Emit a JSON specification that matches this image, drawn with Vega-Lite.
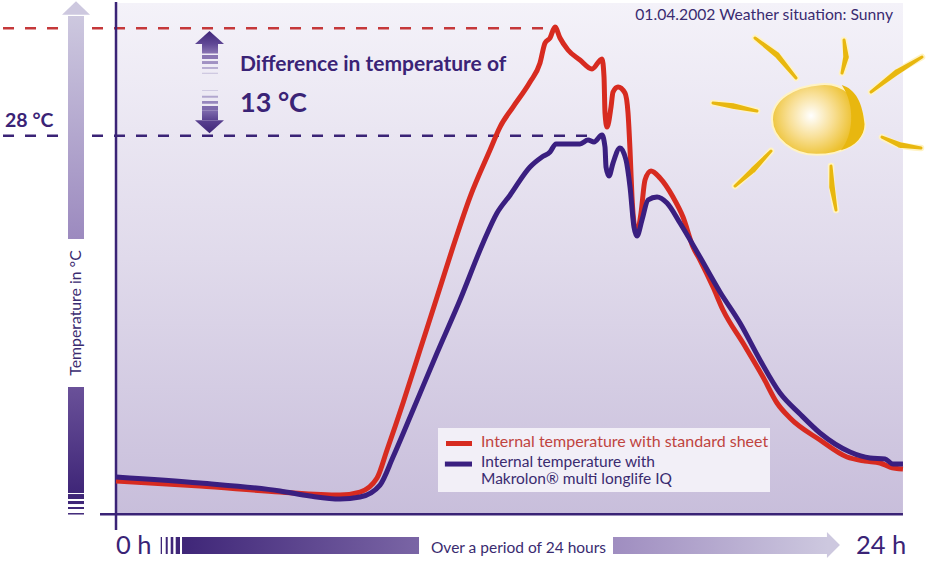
{
"$schema":"https://vega.github.io/schema/vega-lite/v6.json",
"width":947,"height":564,"padding":0,
"autosize":{"type":"fit","contains":"padding"},
"background":"white",
"config":{"view":{"stroke":null},"font":"Lato"},
"datasets":{
"standard":[{"h":0,"t":-13.8},{"h":2.562,"t":-14.41},{"h":5.002,"t":-15.14},{"h":6.831,"t":-15.5},{"h":7.441,"t":-15.14},{"h":7.96,"t":-13.44},{"h":8.265,"t":-10.05},{"h":8.753,"t":-4.36},{"h":9.271,"t":2.06},{"h":9.79,"t":8.47},{"h":10.277,"t":14.53},{"h":10.796,"t":20.58},{"h":11.406,"t":26.27},{"h":11.71,"t":29.05},{"h":12.107,"t":31.47},{"h":12.626,"t":34.5},{"h":12.931,"t":36.8},{"h":13.083,"t":39.22},{"h":13.236,"t":39.83},{"h":13.388,"t":41.16},{"h":13.541,"t":39.83},{"h":13.785,"t":38.38},{"h":14.151,"t":37.16},{"h":14.517,"t":36.08},{"h":14.822,"t":37.29},{"h":14.883,"t":35.11},{"h":14.913,"t":30.75},{"h":14.974,"t":29.05},{"h":15.096,"t":31.47},{"h":15.157,"t":33.29},{"h":15.31,"t":33.9},{"h":15.523,"t":33.17},{"h":15.615,"t":30.75},{"h":15.676,"t":26.27},{"h":15.736,"t":20.58},{"h":15.797,"t":17.43},{"h":15.889,"t":16.22},{"h":16.011,"t":18.64},{"h":16.133,"t":22.64},{"h":16.316,"t":23.73},{"h":16.59,"t":22.88},{"h":16.987,"t":20.58},{"h":17.292,"t":18.16},{"h":17.597,"t":14.53},{"h":17.81,"t":12.95},{"h":18.207,"t":9.68},{"h":18.512,"t":6.9},{"h":19.122,"t":2.9},{"h":19.732,"t":-1.21},{"h":20.159,"t":-4.36},{"h":20.555,"t":-6.18},{"h":21.47,"t":-8.84},{"h":22.294,"t":-10.9},{"h":22.84,"t":-11.38},{"h":23.3,"t":-11.62},{"h":23.6,"t":-12.11},{"h":24,"t":-12.35}],
"makrolon":[{"h":0,"t":-13.32},{"h":2.562,"t":-14.05},{"h":5.002,"t":-15.01},{"h":5.916,"t":-15.62},{"h":6.831,"t":-15.98},{"h":7.441,"t":-15.74},{"h":8.051,"t":-14.29},{"h":8.448,"t":-10.9},{"h":9.058,"t":-5.21},{"h":9.79,"t":1.69},{"h":10.491,"t":8.11},{"h":11.193,"t":15.01},{"h":11.619,"t":18.64},{"h":12.016,"t":20.8},{"h":12.626,"t":24.21},{"h":12.992,"t":25.42},{"h":13.236,"t":26.03},{"h":13.419,"t":27},{"h":13.754,"t":27},{"h":14.151,"t":27},{"h":14.395,"t":27.48},{"h":14.578,"t":27.24},{"h":14.822,"t":28.08},{"h":14.913,"t":26.63},{"h":14.944,"t":24.21},{"h":15.035,"t":23.12},{"h":15.157,"t":24.69},{"h":15.371,"t":26.51},{"h":15.554,"t":25.06},{"h":15.676,"t":21.79},{"h":15.797,"t":16.95},{"h":15.889,"t":15.86},{"h":16.041,"t":17.79},{"h":16.225,"t":20.22},{"h":16.499,"t":20.58},{"h":16.804,"t":19.85},{"h":17.2,"t":17.43},{"h":17.81,"t":13.31},{"h":18.42,"t":9.08},{"h":19.03,"t":5.32},{"h":19.64,"t":0.85},{"h":20.25,"t":-3.15},{"h":20.86,"t":-5.69},{"h":21.47,"t":-7.99},{"h":22.385,"t":-10.29},{"h":22.995,"t":-11.02},{"h":23.452,"t":-11.14},{"h":23.696,"t":-11.75},{"h":24,"t":-11.75}],
"rays":[{"ray":1,"n":1,"h":19.488,"t":39.83},{"ray":1,"n":2,"h":20.159,"t":37.77},{"ray":1,"n":3,"h":20.738,"t":34.99},{"ray":2,"n":1,"h":22.202,"t":39.59},{"ray":2,"n":2,"h":22.263,"t":37.53},{"ray":2,"n":3,"h":22.141,"t":35.59},{"ray":3,"n":1,"h":24.581,"t":37.53},{"ray":3,"n":2,"h":23.818,"t":35.71},{"ray":3,"n":3,"h":23.025,"t":33.29},{"ray":4,"n":1,"h":18.207,"t":31.96},{"ray":4,"n":2,"h":18.816,"t":31.6},{"ray":4,"n":3,"h":19.549,"t":30.99},{"ray":5,"n":1,"h":23.361,"t":27.84},{"ray":5,"n":2,"h":23.91,"t":26.87},{"ray":5,"n":3,"h":24.55,"t":26.51},{"ray":6,"n":1,"h":19.976,"t":26.15},{"ray":6,"n":2,"h":19.427,"t":23.85},{"ray":6,"n":3,"h":18.878,"t":21.91},{"ray":7,"n":1,"h":21.805,"t":24.33},{"ray":7,"n":2,"h":21.836,"t":21.79},{"ray":7,"n":3,"h":21.958,"t":19}]
},
"encoding":{
"x":{"field":"h","type":"quantitative","axis":null,"scale":{"domain":[-3.538,25.343],"nice":false,"zero":false}},
"y":{"field":"t","type":"quantitative","axis":null,"scale":{"domain":[-23.85,44.43],"nice":false,"zero":false}}
},
"resolve":{"scale":{"color":"independent","size":"independent"}},
"layer":[
{"data":{"values":[{"h":0,"h2":24,"t":44.07,"t2":-17.84}]},"mark":{"type":"rect","fill":{"gradient":"linear","x1":0,"y1":0,"x2":0,"y2":1,"stops":[{"offset":0,"color":"#F4F2F9"},{"offset":0.5,"color":"#E0DAEB"},{"offset":1,"color":"#C8BEDB"}]}},"encoding":{"x2":{"field":"h2"},"y2":{"field":"t2"}}},
{"data":{"values":[{"h":-1.464,"h2":-0.976,"t":42.49,"t2":15.49}]},"mark":{"type":"rect","fill":{"gradient":"linear","x1":0,"y1":0,"x2":0,"y2":1,"stops":[{"offset":0,"color":"#CDC8DF"},{"offset":1,"color":"#9C8ABF"}]}},"encoding":{"x2":{"field":"h2"},"y2":{"field":"t2"}}},
{"data":{"values":[{"h":-1.22,"t":43.47}]},"mark":{"type":"point","filled":true,"opacity":1,"size":784,"fill":"#CDC8DF","stroke":null,"shape":"M0,-0.48 L1,0.48 L-1,0.48Z"}},
{"data":{"values":[{"h":-1.464,"h2":-0.976,"t":-2.42,"t2":-15.26}]},"mark":{"type":"rect","fill":{"gradient":"linear","x1":0,"y1":0,"x2":0,"y2":1,"stops":[{"offset":0,"color":"#6A5199"},{"offset":1,"color":"#3F2678"}]}},"encoding":{"x2":{"field":"h2"},"y2":{"field":"t2"}}},
{"data":{"values":[{"h":-1.464,"h2":-0.976,"t":-15.38,"t2":-15.98},{"h":-1.464,"h2":-0.976,"t":-16.22,"t2":-16.59},{"h":-1.464,"h2":-0.976,"t":-16.95,"t2":-17.19},{"h":-1.464,"h2":-0.976,"t":-17.68,"t2":-17.86}]},"mark":{"type":"rect","fill":"#3F2678"},"encoding":{"x2":{"field":"h2"},"y2":{"field":"t2"}}},
{"data":{"values":[{"h":2.013,"h2":9.241,"t":-20.58,"t2":-22.64}]},"mark":{"type":"rect","fill":{"gradient":"linear","x1":0,"y1":0,"x2":1,"y2":0,"stops":[{"offset":0,"color":"#3F2678"},{"offset":1,"color":"#7A65A5"}]}},"encoding":{"x2":{"field":"h2"},"y2":{"field":"t2"}}},
{"data":{"values":[{"h":1.363,"h2":1.403,"t":-20.58,"t2":-22.64},{"h":1.516,"h2":1.577,"t":-20.58,"t2":-22.64},{"h":1.668,"h2":1.747,"t":-20.58,"t2":-22.64},{"h":1.821,"h2":1.952,"t":-20.58,"t2":-22.64}]},"mark":{"type":"rect","fill":"#3F2678"},"encoding":{"x2":{"field":"h2"},"y2":{"field":"t2"}}},
{"data":{"values":[{"h":15.157,"h2":21.714,"t":-20.58,"t2":-22.64}]},"mark":{"type":"rect","fill":{"gradient":"linear","x1":0,"y1":0,"x2":1,"y2":0,"stops":[{"offset":0,"color":"#9F8DC0"},{"offset":1,"color":"#CDC8DF"}]}},"encoding":{"x2":{"field":"h2"},"y2":{"field":"t2"}}},
{"data":{"values":[{"h":21.88,"t":-21.55}]},"mark":{"type":"point","filled":true,"opacity":1,"size":676,"fill":"#CDC8DF","stroke":null,"shape":"M-0.5,-1 L0.5,0 L-0.5,1Z"}},
{"data":{"values":[{"h":-3.446,"h2":-1.647,"t":41},{"h":-0.732,"h2":13.388,"t":41}]},"mark":{"type":"rule","stroke":"#C5383A","strokeWidth":2.5,"strokeDash":[11,11]},"encoding":{"x2":{"field":"h2"}}},
{"data":{"values":[{"h":-3.446,"h2":-1.647,"t":28},{"h":-0.732,"h2":14.517,"t":28}]},"mark":{"type":"rule","stroke":"#3A2376","strokeWidth":2.5,"strokeDash":[11,11]},"encoding":{"x2":{"field":"h2"}}},
{"data":{"values":[{"h":0,"t":44.19,"t2":-19.74}]},"mark":{"type":"rule","stroke":"#3A2376","strokeWidth":2.5},"encoding":{"y2":{"field":"t2"}}},
{"data":{"values":[{"h":-0.488,"h2":24,"t":-17.84}]},"mark":{"type":"rule","stroke":"#3A2376","strokeWidth":2.5},"encoding":{"x2":{"field":"h2"}}},
{"data":{"values":[{"h":2.623,"h2":3.111,"t":39.1,"t2":37.95}]},"mark":{"type":"rect","fill":{"gradient":"linear","x1":0,"y1":0,"x2":0,"y2":1,"stops":[{"offset":0,"color":"#5F4795"},{"offset":1,"color":"#8A76B3"}]}},"encoding":{"x2":{"field":"h2"},"y2":{"field":"t2"}}},
{"data":{"values":[{"h":2.623,"h2":3.111,"t":31.03,"t2":29.9}]},"mark":{"type":"rect","fill":{"gradient":"linear","x1":0,"y1":0,"x2":0,"y2":1,"stops":[{"offset":0,"color":"#7D69AC"},{"offset":1,"color":"#5A4290"}]}},"encoding":{"x2":{"field":"h2"},"y2":{"field":"t2"}}},
{"data":{"values":[{"h":2.623,"h2":3.111,"t":37.77,"t2":37.29},{"h":2.623,"h2":3.111,"t":37.04,"t2":36.68},{"h":2.623,"h2":3.111,"t":36.32,"t2":36.08},{"h":2.623,"h2":3.111,"t":35.63,"t2":35.47},{"h":2.623,"h2":3.111,"t":33.53,"t2":33.41},{"h":2.623,"h2":3.111,"t":32.84,"t2":32.6},{"h":2.623,"h2":3.111,"t":32.2,"t2":31.87},{"h":2.623,"h2":3.111,"t":31.6,"t2":31.03}]},"mark":{"type":"rect"},"encoding":{"x2":{"field":"h2"},"y2":{"field":"t2"},"fill":{"field":"t","type":"quantitative","legend":null,"scale":{"domain":[31.6,33.53,35.63,37.77],"range":["#7D69AC","#CFC9E1","#CFC9E1","#8A76B3"]}}}},
{"data":{"values":[{"h":2.851,"t":39.89}]},"mark":{"type":"point","filled":true,"opacity":1,"size":841,"stroke":null,"fill":{"gradient":"linear","x1":0,"y1":0,"x2":0,"y2":1,"stops":[{"offset":0,"color":"#3F2678"},{"offset":1,"color":"#5F4795"}]},"shape":"M0,-0.45 L1,0.45 L-1,0.45Z"}},
{"data":{"values":[{"h":2.851,"t":29.09}]},"mark":{"type":"point","filled":true,"opacity":1,"size":841,"stroke":null,"fill":{"gradient":"linear","x1":0,"y1":0,"x2":0,"y2":1,"stops":[{"offset":0,"color":"#5A4290"},{"offset":1,"color":"#3F2678"}]},"shape":"M0,0.45 L1,-0.45 L-1,-0.45Z"}},
{"data":{"name":"rays"},"mark":{"type":"line","stroke":"#FFF3C4","strokeWidth":6.5,"strokeCap":"round","interpolate":"cardinal"},"encoding":{"detail":{"field":"ray"},"order":{"field":"n"}}},
{"data":{"name":"rays"},"mark":{"type":"trail","color":"#E8B70F"},"encoding":{"detail":{"field":"ray"},"order":{"field":"n"},"size":{"field":"n","type":"quantitative","legend":null,"scale":{"domain":[1,2,3],"range":[3,5.5,3]}}}},
{"data":{"values":[{"h":21.424,"t":29.96}]},"mark":{"type":"point","filled":true,"opacity":1,"size":8649,"stroke":"#FFF3C4","strokeWidth":2,"fill":{"gradient":"radial","x1":0.42,"y1":0.46,"x2":0.42,"y2":0.46,"r1":0,"r2":0.6,"stops":[{"offset":0,"color":"#FFFFFF"},{"offset":0.4,"color":"#F8DF95"},{"offset":0.75,"color":"#EDC233"},{"offset":1,"color":"#E8B70F"}]},"shape":"M-1,0 C-1,-0.45 -0.5,-0.72 0.05,-0.76 C0.5,-0.8 0.9,-0.5 1,0.1 C1,0.5 0.5,0.76 -0.05,0.76 C-0.55,0.76 -1,0.4 -1,0Z"}},
{"data":{"values":[{"h":21.424,"t":29.96}]},"mark":{"type":"point","filled":true,"opacity":1,"size":8649,"stroke":null,"fill":"#E8B70F","shape":"M0.5,-0.74 C0.8,-0.65 0.95,-0.35 0.99,0.1 C0.99,0.35 0.8,0.58 0.48,0.66 C0.75,0.35 0.8,-0.3 0.5,-0.74Z"}},
{"data":{"name":"standard"},"mark":{"type":"line","stroke":"#D72B20","strokeWidth":5,"interpolate":"monotone"}},
{"data":{"name":"makrolon"},"mark":{"type":"line","stroke":"#3A1F80","strokeWidth":5,"interpolate":"monotone"}},
{"data":{"values":[{"h":9.82,"h2":19.945,"t":-7.39,"t2":-15.14}]},"mark":{"type":"rect","fill":"#F2EFF7"},"encoding":{"x2":{"field":"h2"},"y2":{"field":"t2"}}},
{"data":{"values":[{"h":10.064,"h2":10.857,"t":-9.26}]},"mark":{"type":"rule","stroke":"#D72B20","strokeWidth":5},"encoding":{"x2":{"field":"h2"}}},
{"data":{"values":[{"h":10.03,"h2":10.857,"t":-11.75}]},"mark":{"type":"rule","stroke":"#3A1F80","strokeWidth":5},"encoding":{"x2":{"field":"h2"}}},
{"data":{"values":[{"h":11.131,"t":-9.69,"label":"Internal temperature with standard sheet"}]},"mark":{"type":"text","align":"left","baseline":"alphabetic","fontSize":16,"color":"#C0443F"},"encoding":{"text":{"field":"label"}}},
{"data":{"values":[{"h":11.131,"t":-12.11,"label":"Internal temperature with"},{"h":11.131,"t":-14.17,"label":"Makrolon® multi longlife IQ"}]},"mark":{"type":"text","align":"left","baseline":"alphabetic","fontSize":15.5,"color":"#3A2B70"},"encoding":{"text":{"field":"label"}}},
{"data":{"values":[{"h":23.696,"t":42.01,"label":"01.04.2002 Weather situation: Sunny"}]},"mark":{"type":"text","align":"right","baseline":"alphabetic","fontSize":15.7,"color":"#3A2B70"},"encoding":{"text":{"field":"label"}}},
{"data":{"values":[{"h":3.782,"t":35.83,"label":"Difference in temperature of"}]},"mark":{"type":"text","align":"left","baseline":"alphabetic","fontSize":21,"fontWeight":"bold","color":"#3A2376"},"encoding":{"text":{"field":"label"}}},
{"data":{"values":[{"h":3.782,"t":30.87,"label":"13 °C"}]},"mark":{"type":"text","align":"left","baseline":"alphabetic","fontSize":27,"fontWeight":"bold","color":"#3A2376"},"encoding":{"text":{"field":"label"}}},
{"data":{"values":[{"h":-3.385,"t":29.05,"label":"28 °C"}]},"mark":{"type":"text","align":"left","baseline":"alphabetic","fontSize":19.5,"fontWeight":"bold","color":"#3A2376"},"encoding":{"text":{"field":"label"}}},
{"data":{"values":[{"h":0,"t":-22.64,"label":"0 h"},{"h":22.568,"t":-22.64,"label":"24 h"}]},"mark":{"type":"text","align":"left","baseline":"alphabetic","fontSize":25.5,"color":"#3A2376"},"encoding":{"text":{"field":"label"}}},
{"data":{"values":[{"h":9.606,"t":-22.52,"label":"Over a period of 24 hours"}]},"mark":{"type":"text","align":"left","baseline":"alphabetic","fontSize":15.5,"color":"#3A2B70"},"encoding":{"text":{"field":"label"}}},
{"data":{"values":[{"h":-1.22,"t":6.54,"label":"Temperature in °C"}]},"mark":{"type":"text","align":"center","baseline":"middle","angle":270,"fontSize":15.8,"color":"#3A2B70"},"encoding":{"text":{"field":"label"}}}
]
}
